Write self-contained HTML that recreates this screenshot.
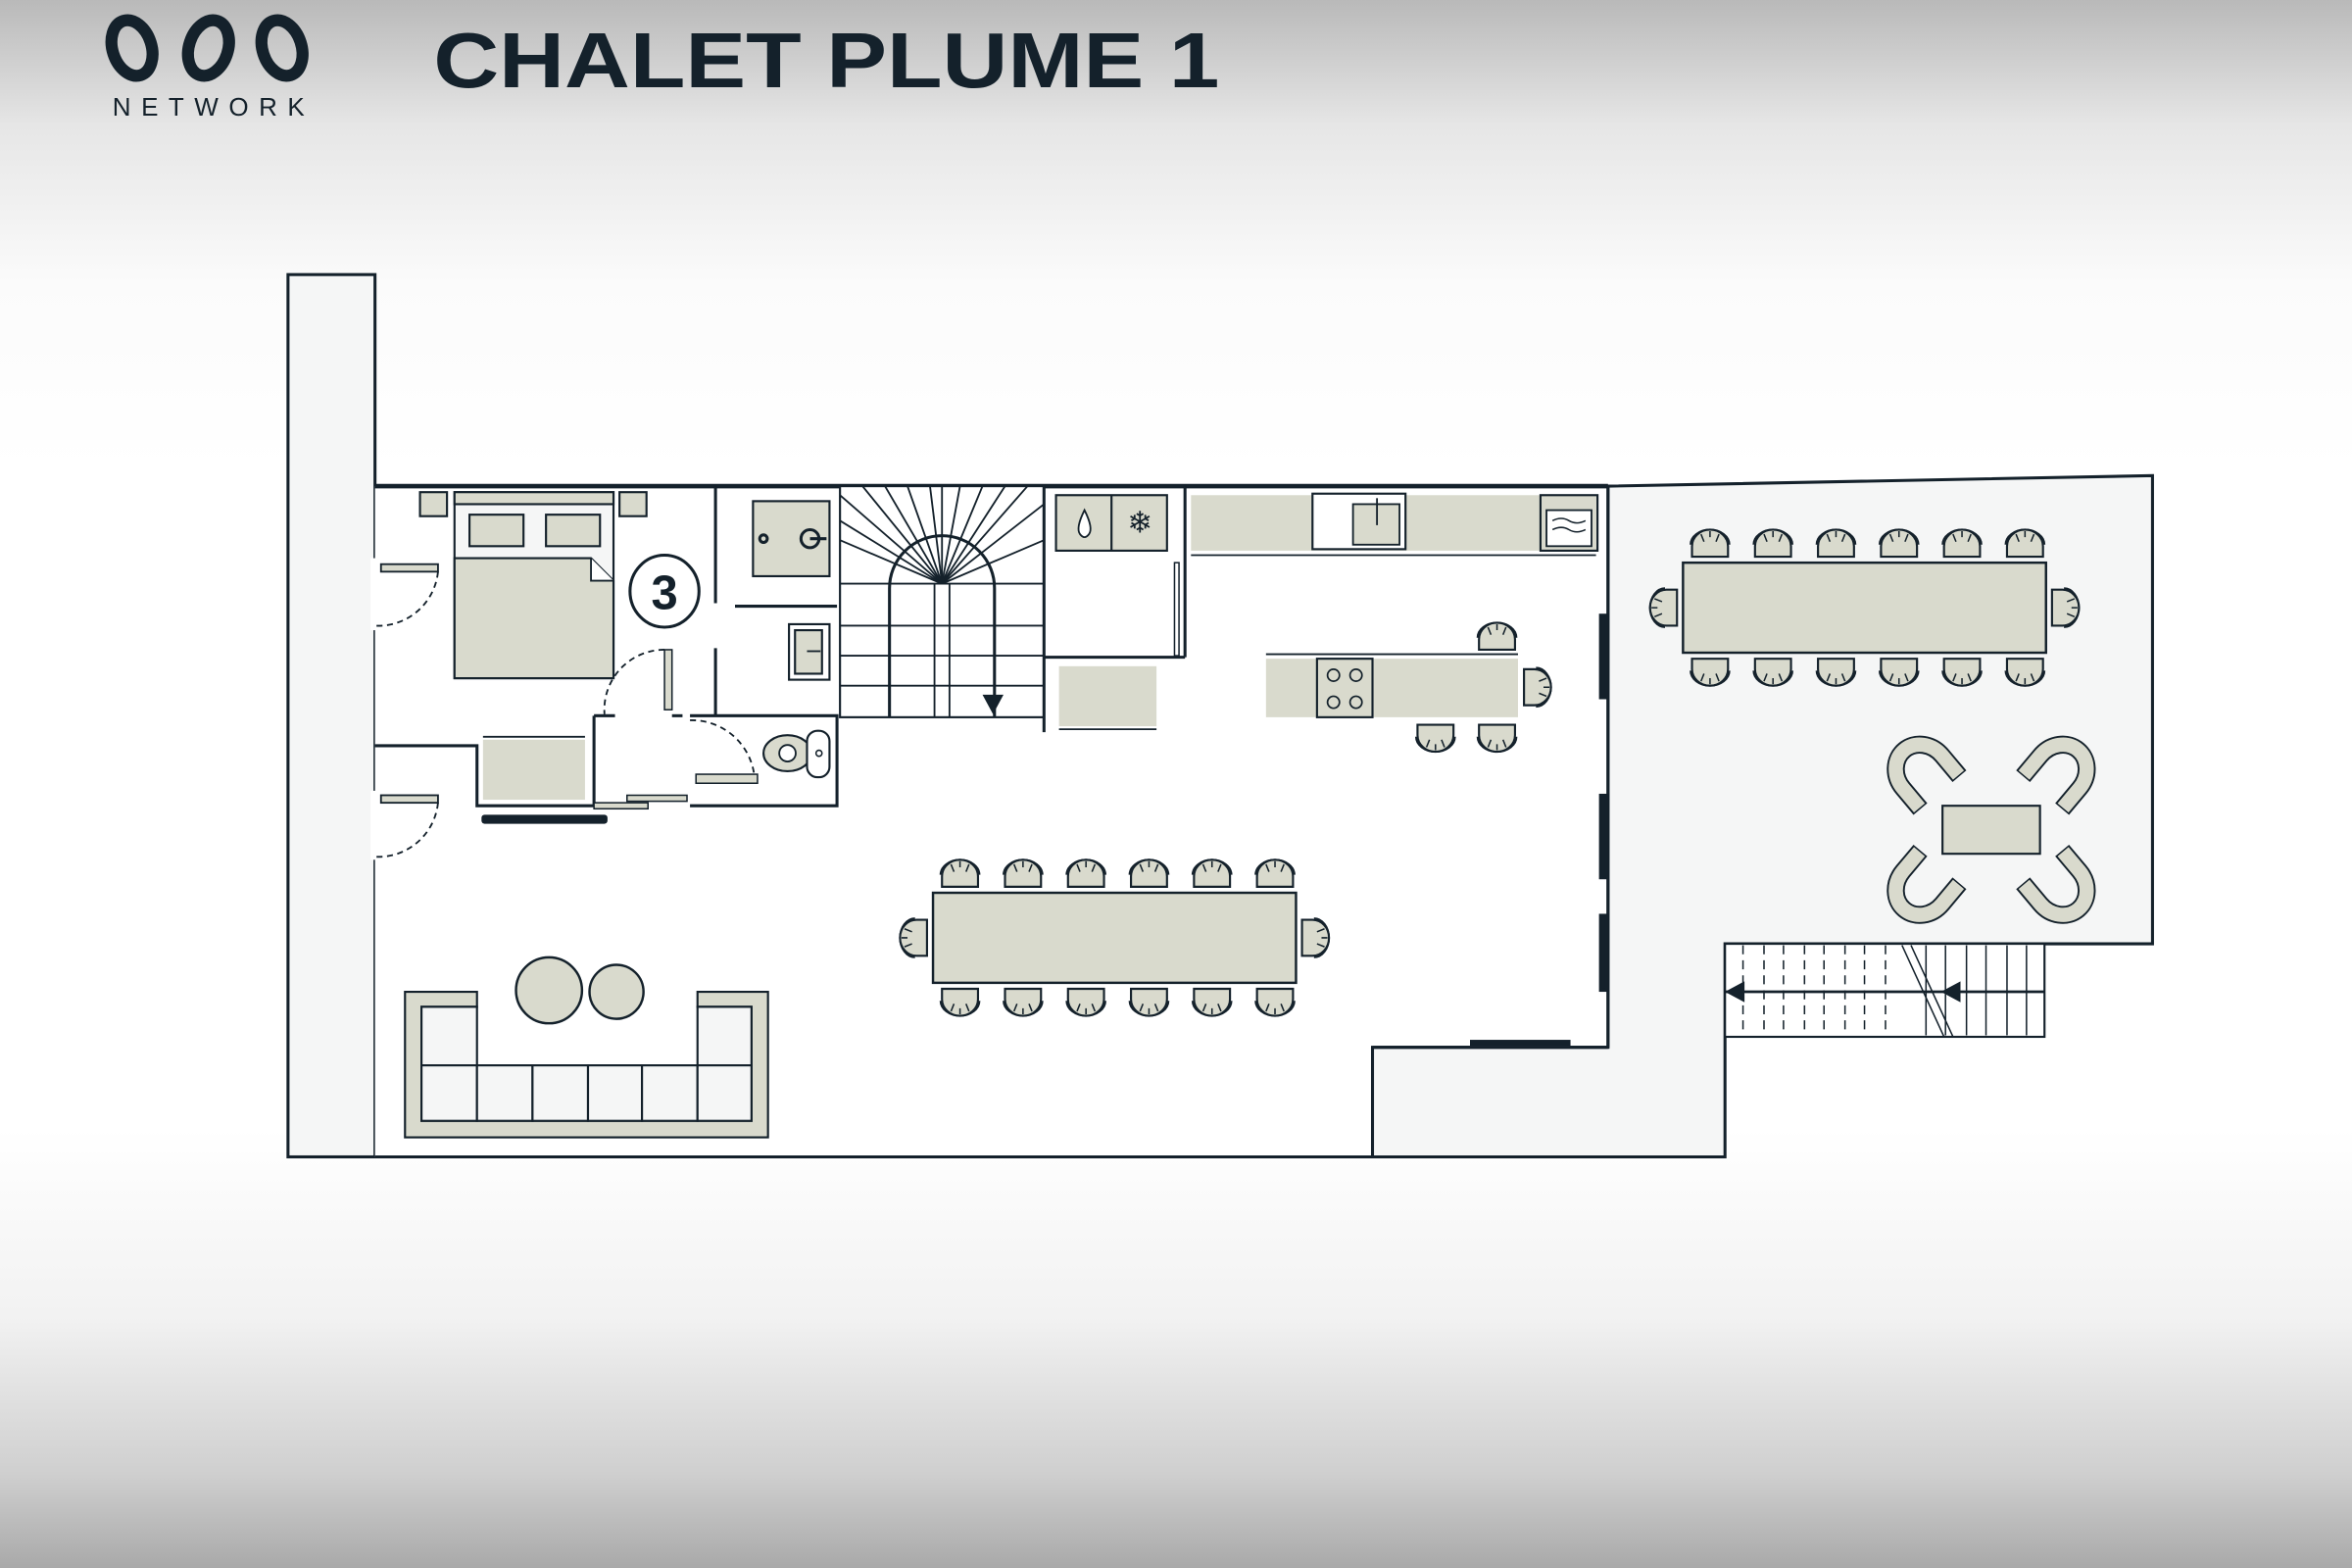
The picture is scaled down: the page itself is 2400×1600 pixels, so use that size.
<!DOCTYPE html>
<html><head><meta charset="utf-8"><style>
html,body{margin:0;padding:0;width:2400px;height:1600px;overflow:hidden;}
body{background:linear-gradient(to bottom,#b9b9b9 0%,#e6e6e6 8%,#fbfbfb 18%,#ffffff 30%,#ffffff 72%,#f2f2f2 84%,#cfcfcf 94%,#a9a9a9 100%);}
svg{position:absolute;left:0;top:0;}
</style></head><body>
<svg width="2400" height="1600" viewBox="0 0 1568 1045" preserveAspectRatio="none" xmlns="http://www.w3.org/2000/svg">
<defs>
<g id="ch">
  <path d="M-12,0 L-12,-7 A12,11 0 0 1 12,-7 L12,0 Z" fill="#d9dacd" stroke="#14212b" stroke-width="1.4"/>
  <path d="M-13,-8 A13,10 0 0 1 13,-8" fill="none" stroke="#14212b" stroke-width="1.2"/>
  <path d="M-6,-15 L-4,-10 M6,-15 L4,-10 M0,-17 L0,-13" stroke="#14212b" stroke-width="1"/>
</g>
<g id="lc">
  <path d="M-17,-16 L-17,2 A17,19 0 0 0 17,2 L17,-16" fill="none" stroke="#14212b" stroke-width="12"/>
  <path d="M-17,-15 L-17,2 A17,19 0 0 0 17,2 L17,-15" fill="none" stroke="#d9dacd" stroke-width="9.5"/>
</g>
</defs>
<g font-family="Liberation Sans, sans-serif" fill="#14212b">
  <!-- logo -->
  <g fill="none" stroke="#14212b" stroke-width="8">
    <ellipse cx="88" cy="32" rx="13" ry="19" transform="rotate(-18 88 32)"/>
    <ellipse cx="139" cy="32" rx="13" ry="19" transform="rotate(18 139 32)"/>
    <ellipse cx="188" cy="32" rx="13" ry="19" transform="rotate(-18 188 32)"/>
  </g>
  <text x="75" y="77" font-size="17" textLength="128" lengthAdjust="spacing">NETWORK</text>
  <text x="289" y="58" font-size="52" font-weight="bold" textLength="524" lengthAdjust="spacingAndGlyphs">CHALET PLUME 1</text>
</g>

<g stroke="#14212b" stroke-width="2" fill="none">
  <rect x="192" y="183" width="58" height="588" fill="#f5f6f6"/>
  <rect x="250" y="324" width="822" height="447" fill="#fff" stroke="none"/>
  <polygon points="1072,324 1435,317 1435,629 1150,629 1150,771 915,771 915,698 1072,698" fill="#f5f6f6"/>
  <line x1="250" y1="324" x2="1072" y2="324" stroke-width="3"/>
  <line x1="250" y1="771" x2="1150" y2="771"/>
  <line x1="1072" y1="324" x2="1072" y2="698"/>
  <rect x="1067" y="410" width="4" height="55" fill="#14212b"/>
  <rect x="1067" y="530" width="4" height="55" fill="#14212b"/>
  <rect x="1067" y="610" width="4" height="50" fill="#14212b"/>
  <line x1="915" y1="698" x2="1072" y2="698"/>
  <rect x="980" y="693" width="67" height="4" fill="#14212b" stroke="none"/>
  <rect x="247" y="372" width="6" height="48" fill="#fff" stroke="none"/>
  <rect x="247" y="527" width="6" height="46" fill="#fff" stroke="none"/>
  <rect x="254" y="376" width="38" height="5" fill="#d9dacd" stroke-width="1.2"/>
  <path d="M292,381 A40,40 0 0 1 250,417" stroke-dasharray="4,3" stroke-width="1.2"/>
  <rect x="254" y="530" width="38" height="5" fill="#d9dacd" stroke-width="1.2"/>
  <path d="M292,535 A40,40 0 0 1 250,571" stroke-dasharray="4,3" stroke-width="1.2"/>
  <!-- bedroom -->
  <rect x="280" y="328" width="18" height="16" fill="#d9dacd" stroke-width="1.4"/>
  <rect x="413" y="328" width="18" height="16" fill="#d9dacd" stroke-width="1.4"/>
  <rect x="303" y="328" width="106" height="124" fill="#f5f6f6" stroke-width="1.4"/>
  <rect x="303" y="328" width="106" height="8" fill="#d9dacd" stroke-width="1.4"/>
  <rect x="313" y="343" width="36" height="21" fill="#d9dacd" stroke-width="1.4"/>
  <rect x="364" y="343" width="36" height="21" fill="#d9dacd" stroke-width="1.4"/>
  <path d="M303,372 L394,372 L409,387 L409,452 L303,452 Z" fill="#d9dacd" stroke-width="1.4"/>
  <path d="M394,372 L394,387 L409,387" fill="#fff" stroke-width="1.2"/>
  <ellipse cx="443" cy="394" rx="23" ry="24" fill="#fff" stroke-width="2"/>
  <line x1="477" y1="324" x2="477" y2="402"/>
  <line x1="477" y1="432" x2="477" y2="477"/>
  <line x1="490" y1="404" x2="558" y2="404"/>
  <rect x="502" y="334" width="51" height="50" fill="#d9dacd" stroke-width="1.4"/>
  <circle cx="509" cy="359" r="2.5"/><circle cx="540" cy="359" r="6"/><line x1="540" y1="359" x2="551" y2="359"/>
  <rect x="526" y="416" width="27" height="37" fill="#fff" stroke-width="1.4"/>
  <rect x="530" y="420" width="18" height="29" fill="#d9dacd" stroke-width="1.4"/>
  <line x1="538" y1="434" x2="547" y2="434" stroke-width="1.2"/>
  <rect x="443" y="433" width="5" height="40" fill="#d9dacd" stroke-width="1"/>
  <path d="M443,433 A40,40 0 0 0 403,476" stroke-dasharray="4,3" stroke-width="1.2"/>
  <path d="M396,477 L396,537 M460,477 L558,477 L558,537 L460,537" />
  <line x1="396" y1="477" x2="410" y2="477"/>
  <line x1="448" y1="477" x2="455" y2="477"/>
  <path d="M460,480 A42,42 0 0 1 503,518" stroke-dasharray="4,3" stroke-width="1.2"/>
  <rect x="464" y="516" width="41" height="6" fill="#d9dacd" stroke-width="1"/>
  <ellipse cx="525" cy="502" rx="16" ry="12" fill="#d9dacd" stroke-width="1.4"/>
  <circle cx="525" cy="502" r="5.5" fill="#fff" stroke-width="1.2"/>
  <rect x="538" y="487" width="15" height="31" rx="7" fill="#fff" stroke-width="1.4"/>
  <circle cx="546" cy="502" r="2" stroke-width="1"/>
  <rect x="418" y="530" width="40" height="4" fill="#d9dacd" stroke-width="1"/>
  <rect x="396" y="535" width="36" height="4" fill="#d9dacd" stroke-width="1"/>
  <path d="M250,497 L318,497 L318,537 L396,537"/>
  <rect x="322" y="493" width="68" height="40" fill="#d9dacd" stroke="none"/>
  <line x1="322" y1="491" x2="390" y2="491" stroke-width="1.2"/>
  <rect x="321" y="543" width="84" height="6" fill="#14212b" rx="2" stroke="none"/>
  <!-- stairs -->
  <rect x="560" y="324" width="136" height="154" fill="#fff" stroke-width="1.4"/>
  <g stroke-width="1.2">
    <line x1="628" y1="389" x2="560" y2="330"/><line x1="628" y1="389" x2="575" y2="324"/><line x1="628" y1="389" x2="590" y2="324"/>
    <line x1="628" y1="389" x2="605" y2="324"/><line x1="628" y1="389" x2="620" y2="324"/><line x1="628" y1="389" x2="628" y2="324"/>
    <line x1="628" y1="389" x2="640" y2="324"/><line x1="628" y1="389" x2="655" y2="324"/><line x1="628" y1="389" x2="670" y2="324"/>
    <line x1="628" y1="389" x2="685" y2="324"/><line x1="628" y1="389" x2="696" y2="336"/><line x1="628" y1="389" x2="696" y2="360"/>
    <line x1="628" y1="389" x2="560" y2="360"/><line x1="628" y1="389" x2="560" y2="347"/>
    <path d="M593,478 L593,392 A35,35 0 0 1 663,392 L663,478" stroke-width="2"/>
    <line x1="560" y1="389" x2="696" y2="389"/>
    <line x1="560" y1="417" x2="696" y2="417"/><line x1="560" y1="437" x2="696" y2="437"/><line x1="560" y1="457" x2="696" y2="457"/>
    <line x1="623" y1="389" x2="623" y2="478"/><line x1="633" y1="389" x2="633" y2="478"/>
  </g>
  <polygon points="655,463 669,463 662,476" fill="#14212b" stroke="none"/>
  <!-- kitchen -->
  <line x1="696" y1="324" x2="696" y2="488"/>
  <line x1="696" y1="438" x2="790" y2="438"/>
  <line x1="790" y1="324" x2="790" y2="438"/>
  <rect x="704" y="330" width="74" height="37" fill="#d9dacd" stroke-width="1.4"/>
  <line x1="741" y1="330" x2="741" y2="367" stroke-width="1.4"/>
  <path d="M723,340 Q717,352 720,356 Q723,360 726,356 Q729,352 723,340Z" fill="#fff" stroke-width="1.2"/>
  <text x="760" y="355" font-size="20" text-anchor="middle" fill="#14212b" stroke="none" font-family="DejaVu Sans">❄</text>
  <rect x="783" y="375" width="3" height="62" fill="#fff" stroke-width="1"/>
  <rect x="706" y="444" width="65" height="40" fill="#d9dacd" stroke="none"/>
  <line x1="706" y1="486" x2="771" y2="486" stroke-width="1.2"/>
  <rect x="794" y="330" width="270" height="37" fill="#d9dacd" stroke="none"/>
  <line x1="794" y1="370" x2="1064" y2="370" stroke-width="1.2"/>
  <rect x="875" y="329" width="62" height="37" fill="#fff" stroke-width="1.4"/>
  <rect x="902" y="336" width="31" height="27" fill="#d9dacd" stroke-width="1.2"/>
  <line x1="918" y1="332" x2="918" y2="350" stroke-width="1.2"/>
  <rect x="1027" y="330" width="38" height="37" fill="#d9dacd" stroke-width="1.4"/>
  <rect x="1031" y="340" width="30" height="24" fill="#fff" stroke-width="1.2"/>
  <path d="M1035,347 q6,-3 11,0 t11,0 M1035,353 q6,-3 11,0 t11,0" stroke-width="1"/>
  <rect x="844" y="439" width="168" height="39" fill="#d9dacd" stroke="none"/>
  <line x1="844" y1="436" x2="1012" y2="436" stroke-width="1.2"/>
  <rect x="878" y="439" width="37" height="39" fill="#d9dacd" stroke-width="1.4"/>
  <g stroke-width="1.1"><circle cx="889" cy="450" r="4"/><circle cx="904" cy="450" r="4"/><circle cx="889" cy="468" r="4"/><circle cx="904" cy="468" r="4"/></g>
  <rect x="622" y="595" width="242" height="60" fill="#d9dacd" stroke-width="1.6"/>
  <rect x="1122" y="375" width="242" height="60" fill="#d9dacd" stroke-width="1.6"/>
  <rect x="1295" y="537" width="65" height="32" fill="#d9dacd" stroke-width="1.4"/>
  <!-- sofa -->
  <path d="M270,661 L318,661 L318,671 L281,671 L281,747 L501,747 L501,671 L465,671 L465,661 L512,661 L512,758 L270,758 Z" fill="#d9dacd" stroke-width="1.4"/>
  <g fill="#f5f6f6" stroke-width="1.4">
    <rect x="281" y="671" width="37" height="39"/><rect x="465" y="671" width="36" height="39"/>
    <rect x="281" y="710" width="37" height="37"/><rect x="318" y="710" width="37" height="37"/><rect x="355" y="710" width="37" height="37"/>
    <rect x="392" y="710" width="36" height="37"/><rect x="428" y="710" width="37" height="37"/><rect x="465" y="710" width="36" height="37"/>
  </g>
  <circle cx="366" cy="660" r="22" fill="#d9dacd" stroke-width="1.6"/>
  <circle cx="411" cy="661" r="18" fill="#d9dacd" stroke-width="1.6"/>
  <!-- exterior stairs -->
  <rect x="1150" y="629" width="213" height="62" fill="#fff" stroke-width="1.4"/>
  <g stroke-width="1" stroke-dasharray="6,4">
    <line x1="1162" y1="630" x2="1162" y2="690"/><line x1="1176" y1="630" x2="1176" y2="690"/><line x1="1189" y1="630" x2="1189" y2="690"/>
    <line x1="1203" y1="630" x2="1203" y2="690"/><line x1="1216" y1="630" x2="1216" y2="690"/><line x1="1230" y1="630" x2="1230" y2="690"/>
    <line x1="1243" y1="630" x2="1243" y2="690"/><line x1="1257" y1="630" x2="1257" y2="690"/>
  </g>
  <g stroke-width="1"><line x1="1284" y1="630" x2="1284" y2="690"/><line x1="1297" y1="630" x2="1297" y2="690"/><line x1="1311" y1="630" x2="1311" y2="690"/><line x1="1324" y1="630" x2="1324" y2="690"/><line x1="1338" y1="630" x2="1338" y2="690"/><line x1="1351" y1="630" x2="1351" y2="690"/>
  <line x1="1268" y1="630" x2="1296" y2="691"/><line x1="1274" y1="630" x2="1302" y2="691"/></g>
  <line x1="1150" y1="661" x2="1363" y2="661" stroke-width="1.8"/>
  <polygon points="1150,661 1163,654 1163,668" fill="#14212b" stroke="none"/>
  <polygon points="1294,661 1307,654 1307,668" fill="#14212b" stroke="none"/>
</g>

<g>
  <use href="#ch" transform="translate(640,591)"/><use href="#ch" transform="translate(682,591)"/><use href="#ch" transform="translate(724,591)"/>
  <use href="#ch" transform="translate(766,591)"/><use href="#ch" transform="translate(808,591)"/><use href="#ch" transform="translate(850,591)"/>
  <use href="#ch" transform="translate(640,659) rotate(180)"/><use href="#ch" transform="translate(682,659) rotate(180)"/><use href="#ch" transform="translate(724,659) rotate(180)"/>
  <use href="#ch" transform="translate(766,659) rotate(180)"/><use href="#ch" transform="translate(808,659) rotate(180)"/><use href="#ch" transform="translate(850,659) rotate(180)"/>
  <use href="#ch" transform="translate(618,625) rotate(-90)"/><use href="#ch" transform="translate(868,625) rotate(90)"/>
  <use href="#ch" transform="translate(1140,371)"/><use href="#ch" transform="translate(1182,371)"/><use href="#ch" transform="translate(1224,371)"/>
  <use href="#ch" transform="translate(1266,371)"/><use href="#ch" transform="translate(1308,371)"/><use href="#ch" transform="translate(1350,371)"/>
  <use href="#ch" transform="translate(1140,439) rotate(180)"/><use href="#ch" transform="translate(1182,439) rotate(180)"/><use href="#ch" transform="translate(1224,439) rotate(180)"/>
  <use href="#ch" transform="translate(1266,439) rotate(180)"/><use href="#ch" transform="translate(1308,439) rotate(180)"/><use href="#ch" transform="translate(1350,439) rotate(180)"/>
  <use href="#ch" transform="translate(1118,405) rotate(-90)"/><use href="#ch" transform="translate(1368,405) rotate(90)"/>
  <use href="#ch" transform="translate(998,433)"/>
  <use href="#ch" transform="translate(1016,458) rotate(90)"/>
  <use href="#ch" transform="translate(957,483) rotate(180)"/><use href="#ch" transform="translate(998,483) rotate(180)"/>
  <use href="#lc" transform="translate(1283,516) rotate(140)"/>
  <use href="#lc" transform="translate(1372,516) rotate(-140)"/>
  <use href="#lc" transform="translate(1283,590) rotate(40)"/>
  <use href="#lc" transform="translate(1372,590) rotate(-40)"/>
</g>
<text x="443" y="406" font-family="Liberation Sans, sans-serif" font-size="32" font-weight="bold" text-anchor="middle" fill="#14212b">3</text>
</svg>
</body></html>
